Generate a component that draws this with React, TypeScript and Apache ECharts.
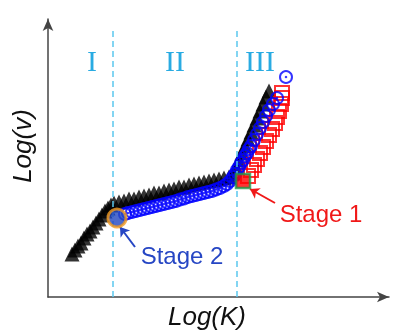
import React, { useEffect, useRef } from "react";
import * as echarts from "echarts";

// Log(K) , Log(v) in arbitrary log units
const blackX = [0.24,0.27,0.30,0.33,0.36,0.39,0.42,0.45,0.48,0.51,0.54,0.57,0.60,0.63,
  0.66,0.71,0.76,0.81,0.86,0.91,0.96,1.01,1.06,1.11,1.16,1.21,1.26,1.31,1.36,1.41,1.46,1.51,1.56,1.61,1.66,1.71,1.76,1.81,
  1.85,1.88,1.91,1.94,1.97,2.00,2.03,2.06,2.09,2.12,2.15,2.18,2.21];
const blackY = [0.43,0.47,0.51,0.54,0.59,0.63,0.66,0.70,0.74,0.78,0.82,0.86,0.89,0.92,
  0.94,0.95,0.96,0.98,0.98,1.00,1.01,1.02,1.04,1.04,1.06,1.07,1.08,1.10,1.10,1.12,1.13,1.14,1.15,1.16,1.17,1.18,1.19,1.20,
  1.24,1.30,1.37,1.44,1.51,1.58,1.65,1.72,1.79,1.86,1.93,2.00,2.06];

const blueX = [0.77,0.80,0.84,0.88,0.92,0.96,1.00,1.04,1.08,1.12,1.16,1.20,1.24,1.28,1.32,1.36,1.40,1.44,1.48,
  1.52,1.56,1.60,1.64,1.68,1.72,1.76,1.79,1.82,1.85,1.87,1.89,1.91,1.93,1.95,1.97,1.99,2.01,2.03,2.06,2.09,2.12,
  2.15,2.18,2.21,2.25,2.29,2.38];
const blueY = [0.83,0.84,0.85,0.86,0.87,0.88,0.89,0.90,0.91,0.92,0.93,0.94,0.95,0.96,0.975,0.985,1.00,1.01,1.02,
  1.03,1.04,1.05,1.06,1.075,1.09,1.11,1.13,1.16,1.20,1.23,1.27,1.30,1.34,1.37,1.41,1.44,1.48,1.51,1.57,1.63,1.69,
  1.75,1.81,1.87,1.93,1.99,2.20];

const redX = [2.00,2.03,2.06,2.09,2.12,2.15,2.18,2.21,2.24,2.27,2.29,2.31,2.33,2.34,2.34];
const redY = [1.21,1.27,1.32,1.38,1.44,1.50,1.56,1.62,1.68,1.74,1.80,1.86,1.93,1.99,2.04];

const stage1 = [1.95, 1.16];
const stage2 = [0.69, 0.79];
const stageBounds = [0.65, 1.89];
const stageLabels = ["I", "II", "III"];
const stage1Arrow = [[2.27, 0.94], [2.02, 1.08]];
const stage2Arrow = [[0.87, 0.5], [0.72, 0.7]];

const zip = (xs: number[], ys: number[]) => xs.map((x, i) => [x, ys[i]]);

export default function App() {
  const ref = useRef<HTMLDivElement>(null);
  useEffect(() => {
    if (!ref.current) return;
    const chart = echarts.init(ref.current, null, { renderer: "svg" });
    const sans = "'Liberation Sans', Arial, sans-serif";
    const serif = "'Liberation Serif', 'Times New Roman', serif";
    const axisCol = "#444";
    chart.setOption({
      animation: false,
      grid: { left: 48, right: 9, top: 19, bottom: 36 },
      xAxis: {
        type: "value", min: 0, max: 3.41,
        axisLine: { show: true, symbol: ["none", "arrow"], symbolSize: [8, 12], lineStyle: { color: axisCol, width: 1.5 } },
        axisTick: { show: false }, axisLabel: { show: false }, splitLine: { show: false },
      },
      yAxis: {
        type: "value", min: 0, max: 2.78,
        axisLine: { show: true, symbol: ["none", "arrow"], symbolSize: [8, 12], lineStyle: { color: axisCol, width: 1.5 } },
        axisTick: { show: false }, axisLabel: { show: false }, splitLine: { show: false },
      },
      graphic: [
        { type: "text", x: 92, y: 60, style: { text: stageLabels[0], font: `30px ${serif}`, fill: "#29abe2", align: "center", verticalAlign: "middle" } },
        { type: "text", x: 175, y: 60, style: { text: stageLabels[1], font: `30px ${serif}`, fill: "#29abe2", align: "center", verticalAlign: "middle" } },
        { type: "text", x: 260, y: 60, style: { text: stageLabels[2], font: `30px ${serif}`, fill: "#29abe2", align: "center", verticalAlign: "middle" } },
        { type: "text", x: 321, y: 213, style: { text: "Stage 1", font: `24px ${sans}`, fill: "#f01818", align: "center", verticalAlign: "middle" } },
        { type: "text", x: 182, y: 255, style: { text: "Stage 2", font: `24px ${sans}`, fill: "#2646c4", align: "center", verticalAlign: "middle" } },
        { type: "text", x: 207, y: 316, style: { text: "Log(K)", font: `italic 26px ${sans}`, fill: "#111", align: "center", verticalAlign: "middle" } },
        { type: "text", x: 22, y: 146, rotation: Math.PI / 2, style: { text: "Log(v)", font: `italic 26px ${sans}`, fill: "#111", align: "center", verticalAlign: "middle" } },
      ],
      series: [
        {
          type: "scatter", data: zip(blackX, blackY), symbol: "triangle", symbolSize: 15,
          itemStyle: { color: "#000" }, z: 2,
          markLine: {
            silent: true, symbol: "none", label: { show: false },
            lineStyle: { color: "#5bc8ee", type: [6, 4], width: 1.5 },
            data: stageBounds.map((b) => [{ coord: [b, 0] }, { coord: [b, 2.69] }]),
          },
        },
        {
          type: "scatter", data: zip(redX, redY), symbol: "rect", symbolSize: 14,
          itemStyle: { color: "rgba(0,0,0,0)", borderColor: "#ff0000", borderWidth: 2 }, z: 3,
        },
        {
          type: "scatter", data: zip(blueX, blueY), symbol: "circle", symbolSize: 12,
          itemStyle: { color: "rgba(0,0,0,0)", borderColor: "#0000ff", borderWidth: 2 }, z: 4,
        },
        {
          type: "scatter", data: zip(blueX, blueY), symbol: "circle", symbolSize: 2.5,
          itemStyle: { color: "#0000ff" }, z: 4,
        },
        {
          type: "scatter", data: [stage1], symbol: "rect", symbolSize: 14,
          itemStyle: { color: "#ff0000", borderColor: "#1e9a4a", borderWidth: 2.5 }, z: 10,
          markLine: {
            silent: true, symbol: ["none", "arrow"], symbolSize: 9, label: { show: false },
            lineStyle: { color: "#f01818", type: "solid", width: 2 },
            data: [[{ coord: stage1Arrow[0] }, { coord: stage1Arrow[1] }]],
          },
        },
        {
          type: "scatter", data: [stage2], symbol: "circle", symbolSize: 18,
          itemStyle: { color: "#2046c0", borderColor: "#f39a1e", borderWidth: 3 }, z: 10,
          markLine: {
            silent: true, symbol: ["none", "arrow"], symbolSize: 9, label: { show: false },
            lineStyle: { color: "#2646c4", type: "solid", width: 2 },
            data: [[{ coord: stage2Arrow[0] }, { coord: stage2Arrow[1] }]],
          },
        },
      ],
    });
    return () => chart.dispose();
  }, []);
  return <div ref={ref} style={{ position: "fixed", left: 0, top: 0, width: 398, height: 333 }} />;
}
